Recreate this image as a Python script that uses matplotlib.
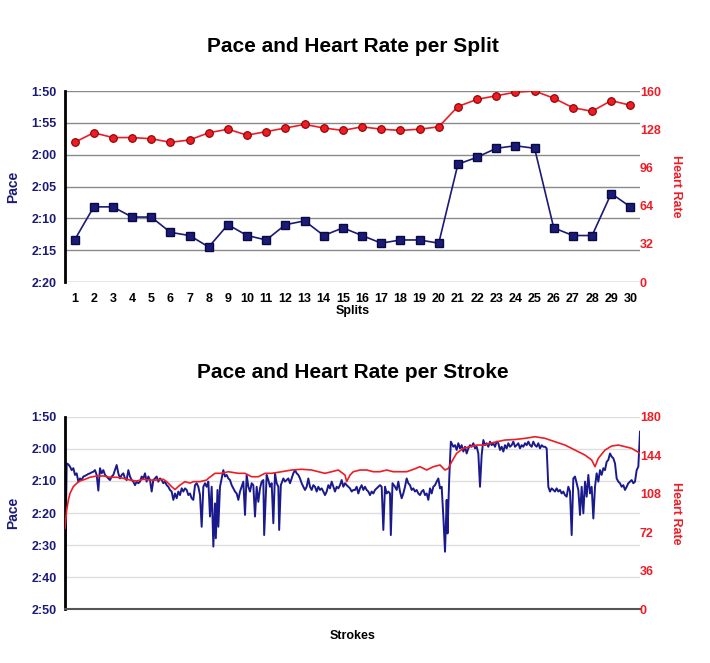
import matplotlib
matplotlib.use('Agg')
import matplotlib.pyplot as plt
from matplotlib.ticker import FuncFormatter, MultipleLocator

plt.rcParams['font.family'] = ['Liberation Sans', 'DejaVu Sans']
plt.rcParams['font.weight'] = 'bold'

# ---- per split data (pace in seconds / 500m, heart rate in bpm) ----
splits = list(range(1, 31))
split_pace = [133.4, 128.2, 128.2, 129.8, 129.8, 132.2, 132.7, 134.5, 131.0, 132.7,
              133.4, 131.0, 130.4, 132.7, 131.5, 132.7, 133.9, 133.4, 133.4, 133.9,
              121.5, 120.4, 119.0, 118.6, 119.0, 131.5, 132.7, 132.7, 126.1, 128.2]
split_hr = [117, 125, 121, 121, 120, 117, 119, 125, 128, 123,
            126, 129, 132, 129, 127, 130, 128, 127, 128, 130,
            147, 153, 156, 159, 160, 154, 146, 143, 152, 148]

pace_x_a = list(range(0, 173, 2))
pace_a = [162.0, 124.5, 124.8, 125.5, 126.6, 126.0, 128.1, 127.6, 130.2, 129.2,
          129.7, 128.6, 128.4, 128.1, 127.8, 127.6, 127.3, 127.1, 126.6, 128.1,
          133.0, 126.0, 127.6, 126.6, 128.1, 128.6, 129.2, 129.7, 128.6, 128.1,
          126.6, 125.0, 127.6, 129.2, 128.1, 127.6, 129.2, 129.7, 126.6, 128.6,
          129.7, 130.2, 131.3, 130.2, 130.7, 130.2, 128.6, 129.2, 127.6, 130.2,
          128.6, 129.7, 133.3, 129.7, 129.2, 128.6, 130.2, 129.2, 129.7, 130.7,
          130.2, 131.3, 131.8, 132.8, 133.3, 135.9, 133.9, 135.4, 133.3, 134.4,
          132.3, 133.3, 132.3, 132.8, 134.4, 133.9, 135.4, 135.9, 131.3, 130.7,
          131.8, 134.4, 144.3, 131.8, 130.7, 131.8, 130.2]

pace_x_b = [174, 176, 178, 180, 181, 183, 184, 186, 188, 190,
            192, 194, 196, 198, 200, 202, 204, 206, 208, 210, 212, 214,
            216, 218, 220, 222, 224, 226, 228, 230, 232, 234, 236, 238,
            239, 242, 244, 246, 248, 250, 252, 254, 256, 257, 259,
            262, 264, 266, 268, 270, 272, 274, 276, 278, 280,
            282, 284, 286, 288, 290, 292, 294, 296, 298, 300,
            302, 304, 306, 308, 310, 312, 314, 316, 318, 320,
            322, 324, 326, 328, 330, 332, 334, 336, 338, 340,
            342, 344, 346]
pace_b = [141.1, 131.8, 150.5, 137.0, 147.9, 132.8, 144.3, 131.8, 129.2, 126.6,
          128.6, 128.1, 129.2, 129.7, 131.3, 132.3, 133.3, 133.9, 135.9, 133.3, 131.8, 130.2,
          140.6, 128.1, 131.8, 133.3, 130.7, 131.3, 141.1, 131.8, 136.5, 132.3, 130.2, 129.7,
          146.9, 128.1, 129.7, 131.8, 130.7, 143.2, 127.6, 130.7, 131.8, 145.3, 131.3,
          129.2, 130.2, 129.7, 129.2, 130.7, 129.2, 127.6, 126.6, 127.6, 128.1,
          129.2, 130.7, 131.8, 132.8, 131.8, 129.2, 131.8, 132.8, 131.3, 131.8,
          133.3, 131.8, 132.8, 132.3, 133.3, 134.4, 133.3, 131.3, 132.3, 130.2,
          131.8, 133.3, 131.8, 132.3, 131.3, 129.7, 131.8, 130.7, 131.3, 131.8,
          132.3, 133.3, 132.8]

pace_x_c = [348, 350, 352, 354, 356, 358, 360, 362, 364, 366, 368,
            370, 372, 374, 376, 378, 380, 382, 384, 386, 388, 390,
            391, 393,
            396, 398, 400, 402, 404, 406, 408, 410, 412, 414, 416,
            418, 420, 422, 424, 426, 428, 430, 432, 434, 436, 438,
            440, 442, 444, 446, 448, 450, 452, 454, 456, 458,
            459, 461, 463,
            466, 468, 470, 472, 474, 476, 478, 480, 482, 484,
            486, 488, 490, 492, 494, 496, 498, 500, 502, 504,
            506, 508, 510, 512, 514, 516, 518, 520]
pace_c = [132.8, 131.8, 133.9, 132.3, 131.3, 132.8, 131.8, 132.8, 133.3, 134.4, 133.3,
          133.9, 132.8, 132.3, 131.8, 131.3, 131.8, 145.3, 131.8, 133.9, 133.3, 133.9,
          146.9, 130.7,
          131.8, 132.8, 130.2, 133.3, 135.4, 133.9, 131.8, 129.2, 130.7, 131.3, 132.8,
          132.3, 133.3, 132.8, 133.9, 134.4, 133.3, 132.8, 134.4, 133.9, 135.9, 132.3,
          133.9, 131.8, 131.3, 130.2, 129.2, 132.3, 131.8, 141.1, 152.1, 135.9,
          146.4, 129.7, 117.7,
          119.3, 118.8, 120.3, 118.2, 119.8, 118.8, 120.8, 119.3, 121.4, 119.8,
          118.8, 119.3, 118.2, 119.8, 119.3, 121.4, 131.8, 121.9, 117.2, 118.8,
          118.2, 119.3, 117.7, 118.8, 118.2, 119.3, 117.7, 118.2]

pace_x_d = list(range(522, 691, 2))
pace_d = [120.3, 119.3, 120.8, 118.8, 119.8, 118.2, 119.3, 118.8, 117.7, 119.3,
          118.8, 118.2, 119.8, 118.8, 119.3, 118.2, 118.8, 117.7, 118.8, 119.3,
          117.7, 118.8, 119.3, 118.2, 119.8, 118.8, 119.3, 119.3, 119.8, 131.8,
          133.3, 132.3, 132.8, 133.3, 132.3, 133.3, 132.8, 133.9, 133.3, 134.4,
          134.9, 131.8, 133.3, 146.9, 129.2, 128.6, 130.7, 132.8, 140.6, 131.8,
          140.1, 130.2, 134.9, 128.1, 133.9, 131.8, 141.7, 131.8, 127.6, 130.2,
          126.6, 128.1, 126.0, 126.6, 124.0, 123.4, 121.4, 122.4, 122.9, 124.5,
          129.2, 130.2, 130.7, 131.8, 131.3, 132.8, 131.8, 130.7, 130.2, 129.7,
          130.7, 130.2, 126.6, 125.5, 114.6]

hr_x = [0, 2, 4, 6, 10, 14, 18, 24, 30, 38, 46, 54, 62, 70, 78, 86, 94, 102, 110,
        118, 122, 128, 132, 138, 144, 150, 154, 162, 170,
        172, 180, 188, 196, 208, 216, 224, 232, 240, 248, 260, 272, 284, 296,
        304, 312, 320, 328, 336, 338, 342, 346,
        354, 362, 370, 378, 386, 394, 402, 410, 418, 426, 434, 442, 450, 456,
        460, 464, 470, 478, 486, 494, 502, 510, 518,
        528, 540, 552, 564, 576, 588, 600, 612, 624, 632, 636, 640, 648, 656,
        664, 672, 680, 690]
hr = [75.6, 92.8, 102, 108.4, 114.7, 117.8, 120, 121.6, 123.5, 124.7, 124.7, 123.5,
      123.5, 122.5, 120.9, 120, 121.6, 120.9, 120.9, 121.6, 119.4, 114.7, 112, 116.2,
      119.4, 118, 119.4, 119.4, 120.9,
      122.5, 127.2, 127.2, 128.7, 127.2, 127.2, 124, 124, 127.2, 127.2, 128.7, 130.3,
      131, 130.3, 128.7, 127.2, 128.7, 130.3, 125.6, 119.4, 125.6, 128.7,
      130.3, 130.3, 128.7, 128.7, 130.3, 128.7, 128.7, 128.7, 130.9, 133.4, 130.3,
      133.4, 135, 130.3, 131.8, 138, 146, 150.6, 152.2, 153.7, 153.7, 155.3, 156.8,
      158.4, 158.9, 160, 161.5, 160, 156.8, 153.7, 149, 144.3, 139.7, 133.4, 141.3,
      149, 152.8, 153.7, 152.2, 150.6, 146]

stroke_x = pace_x_a + pace_x_b + pace_x_c + pace_x_d
stroke_pace = pace_a + pace_b + pace_c + pace_d

NAVY = '#1a1a78'
RED = '#ee1c25'


def pace_label(v, pos):
    m = int(v // 60)
    s = int(round(v - m * 60))
    return f"{m}:{s:02d}"


def style_axes(ax, axr, grid_color):
    ax.yaxis.set_major_formatter(FuncFormatter(pace_label))
    ax.tick_params(axis='y', colors=NAVY, labelsize=9, length=0, pad=6)
    ax.grid(axis='y', color=grid_color, linewidth=1)
    ax.set_axisbelow(True)
    for side in ['top', 'right', 'bottom']:
        ax.spines[side].set_visible(False)
    ax.spines['left'].set_color('black')
    ax.spines['left'].set_linewidth(2)
    ax.set_ylabel('Pace', color=NAVY, fontsize=10, fontweight='bold')
    ax.yaxis.set_label_coords(-0.078, 0.5)
    for side in ['top', 'right', 'bottom', 'left']:
        axr.spines[side].set_visible(False)
    axr.tick_params(axis='y', colors=RED, labelsize=9, length=0, pad=0)
    axr.set_ylabel('Heart Rate', color=RED, fontsize=9, fontweight='bold',
                   rotation=270, va='center')
    axr.yaxis.set_label_coords(1.063, 0.5)


fig = plt.figure(figsize=(7.1, 6.63), dpi=100)

# ---- top: per split ----
ax1 = fig.add_axes([65 / 710, 1 - 282 / 663, 575 / 710, 191 / 663])
ax1r = ax1.twinx()
ax1.plot(splits, split_pace, color=NAVY, linewidth=1.2, marker='s', markersize=5.5,
         markerfacecolor=NAVY, markeredgecolor='#0a0a40', zorder=3)
ax1r.plot(splits, split_hr, color=RED, linewidth=1.2, marker='o', markersize=5.5,
          markerfacecolor=RED, markeredgecolor='#8a0000', markeredgewidth=0.8)
ax1.set_xlim(0.5, 30.5)
ax1.set_ylim(140, 110)
ax1.yaxis.set_major_locator(MultipleLocator(5))
ax1r.set_ylim(0, 160)
ax1r.set_yticks([0, 32, 64, 96, 128, 160])
ax1.set_xticks(splits)
ax1.tick_params(axis='x', colors='black', labelsize=9, length=0, pad=8)
style_axes(ax1, ax1r, '#8a8a8a')
ax1.set_xlabel('Splits', fontsize=9, fontweight='bold')
ax1.xaxis.set_label_coords(0.5, -0.12)
ax1.set_title('Pace and Heart Rate per Split', fontsize=15, fontweight='bold', pad=28)

# ---- bottom: per stroke ----
ax2 = fig.add_axes([65 / 710, 1 - 609 / 663, 575 / 710, 192 / 663])
ax2r = ax2.twinx()
ax2.plot(stroke_x, stroke_pace, color='#1a1a8c', linewidth=1.4)
ax2r.plot(hr_x, hr, color=RED, linewidth=1.2)
ax2.set_xlim(0, 690)
ax2.set_ylim(170, 110)
ax2.yaxis.set_major_locator(MultipleLocator(10))
ax2r.set_ylim(0, 180)
ax2r.set_yticks([0, 36, 72, 108, 144, 180])
ax2.set_xticks([])
style_axes(ax2, ax2r, '#dedede')
ax2.spines['bottom'].set_visible(True)
ax2.spines['bottom'].set_color('#555555')
ax2.spines['bottom'].set_linewidth(1.5)
ax2.set_xlabel('Strokes', fontsize=9, fontweight='bold')
ax2.xaxis.set_label_coords(0.5, -0.11)
ax2.set_title('Pace and Heart Rate per Stroke', fontsize=15, fontweight='bold', pad=28)

fig.savefig('out.png', dpi=100)
